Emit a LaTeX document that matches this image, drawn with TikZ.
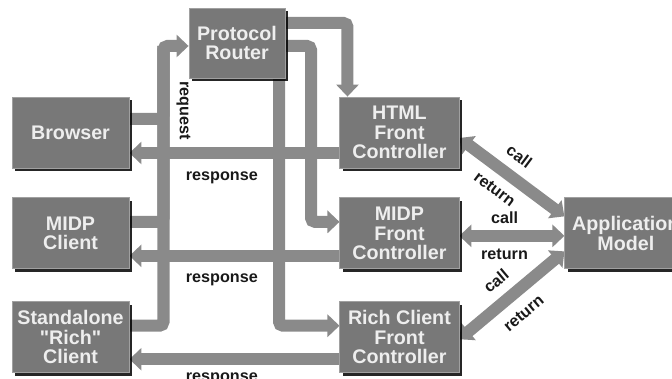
\documentclass[tikz,border=0pt]{standalone}
\usepackage{fontspec}
\setmainfont{Liberation Sans}
\usetikzlibrary{positioning, arrows.meta, shadows, calc, backgrounds}
\definecolor{boxgray}{RGB}{120,120,120}
\definecolor{edgegray}{RGB}{160,160,160}
\definecolor{bandgray}{RGB}{138,138,138}
\definecolor{boxtext}{RGB}{238,238,238}
\definecolor{labeltext}{RGB}{25,25,25}

\begin{document}
\begin{tikzpicture}[
    x=0.025cm, y=-0.025cm,
    ctrlbox/.style={rectangle, fill=boxgray, draw=edgegray, line width=0.6pt, minimum width=2.975cm, minimum height=1.775cm, inner sep=1pt, align=center, text=boxtext, font=\fontsize{14}{14}\selectfont\bfseries, drop shadow={shadow xshift=0.07cm, shadow yshift=-0.07cm, fill=black, opacity=0.85}},
    clientbox/.style={ctrlbox, minimum width=2.925cm},
    band/.style={draw=bandgray, line width=0.3cm, rounded corners=0.1cm},
    arrow/.style={band, -{Triangle[length=0.3cm, width=0.55cm]}},
    twoway/.style={band, {Triangle[length=0.3cm, width=0.55cm]}-{Triangle[length=0.3cm, width=0.55cm]}},
    tag/.style={text=labeltext, font=\fontsize{11.5}{12}\selectfont\bfseries, inner sep=1pt}
]
\useasboundingbox (0,0) rectangle (672,379);

\node[clientbox] (browser) at (70.5,132.5) {Browser};
\node[clientbox, below=0.725cm of browser] (midpc) {MIDP\\Client};
\node[clientbox, below=0.8cm of midpc] (richc) {Standalone\\\textquotedbl Rich\textquotedbl\\Client};
\node[ctrlbox, right=5.25cm of browser] (html) {HTML\\Front\\Controller};
\node[ctrlbox, right=5.25cm of midpc] (midpfc) {MIDP\\Front\\Controller};
\node[ctrlbox, right=5.25cm of richc] (richfc) {Rich Client\\Front\\Controller};
\node[ctrlbox, minimum width=3.05cm, right=2.625cm of midpfc] (app) {Application\\Model};
\node[ctrlbox, minimum width=2.4cm, minimum height=1.75cm] (router) at (237,43) {Protocol\\Router};

\begin{scope}[on background layer]
\coordinate (trunk) at (163.5,46);
\coordinate (split) at (311,100);
\draw[arrow] ($(browser.east)+(0,-13.5)$) -| node[tag, pos=0.56, rotate=-90, anchor=south, inner sep=5pt] {request} (trunk) -- (router.west |- trunk);
\draw[band] ($(midpc.east)+(0,-11.5)$) -| (trunk);
\draw[band] ($(richc.east)+(0,-11.5)$) -| (trunk);

\draw[arrow] ($(router.east)+(0,-20)$) -| ($(html.north west)+(8,0)$);
\draw[arrow] ($(router.east)+(0,3)$) -| (split) |- ($(midpfc.west)+(0,-11.5)$);
\draw[arrow] ($(router.south)+(42,0)$) |- ($(richfc.west)+(0,-11.5)$);

\draw[arrow] ($(html.west)+(0,20.5)$) -- node[tag, pos=0.56, below=0.28cm] {response} ($(browser.east)+(0,20.5)$);
\draw[arrow] ($(midpfc.west)+(0,22.5)$) -- node[tag, pos=0.56, below=0.26cm] {response} ($(midpc.east)+(0,22.5)$);
\draw[arrow] ($(richfc.west)+(0,22)$) -- node[tag, pos=0.56, below=0.16cm] {response} ($(richc.east)+(0,22)$);

\draw[twoway] ($(html.east)+(0,5.5)$) -- node[tag, pos=0.45, sloped, above=0.2cm] {call} node[tag, pos=0.45, sloped, below=0.18cm] {return} ($(app.west)+(0,-17)$);
\draw[twoway] ($(midpfc.east)+(0,2.5)$) -- node[tag, pos=0.43, above=0.12cm] {call} node[tag, pos=0.43, below=0.15cm] {return} ($(app.west)+(0,2.5)$);
\draw[twoway] ($(richfc.east)+(0,2)$) -- node[tag, pos=0.48, sloped, above=0.2cm] {call} node[tag, pos=0.48, sloped, below=0.22cm] {return} ($(app.west)+(0,18)$);
\end{scope}

\end{tikzpicture}
\end{document}
